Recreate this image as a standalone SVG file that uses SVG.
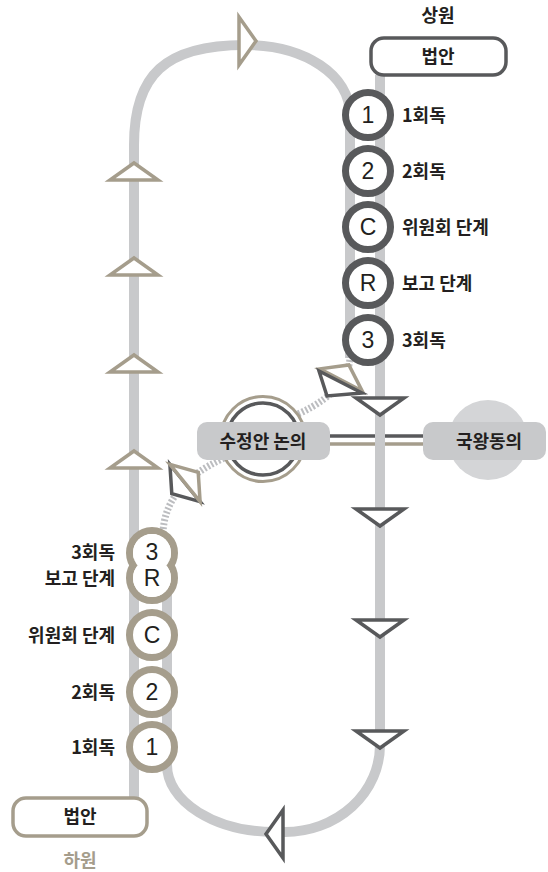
<svg xmlns="http://www.w3.org/2000/svg" width="548" height="872" viewBox="0 0 548 872">
<style>
.track{fill:none;stroke:#c8c9cb;stroke-width:10}
.dash{fill:none;stroke:#bcbdc0;stroke-width:7;stroke-dasharray:2 2}
.ad{fill:#fff;stroke:#58595b;stroke-width:3.5}
.ab{fill:#fff;stroke:#a59d8c;stroke-width:3.5}
.cu{fill:#fff;stroke:#58595b;stroke-width:7}
.cl{fill:#fff;stroke:#a59d8c;stroke-width:7}
.lab{font-family:"Noto Sans CJK KR",sans-serif;font-weight:700;font-size:18px;fill:#231f20}
.num{font-family:"Liberation Sans",sans-serif;font-size:23px;fill:#231f20;text-anchor:middle}
.box{fill:#c8c9cb}
</style>
<defs><polygon id="ah" points="-24,0 24,0 0,17"/></defs>
<g id="connectors">
<line x1="330" y1="436" x2="423" y2="436" stroke="#58595b" stroke-width="3.5"/>
<line x1="330" y1="444" x2="423" y2="444" stroke="#a59d8c" stroke-width="3.5"/>
<path class="track" d="M134,798 V145 C134,75 165,45 245,45 C305,45 350,75 350,115 V358"/>
<path class="track" d="M380,75 V745 A95,87 0 0 1 285,832 H275 A108,67 0 0 1 167,765 V540"/>
<path class="dash" d="M350,356 C350,372 340,395 298,414"/>
<path class="dash" d="M163,533 C164,505 180,478 224,458"/>
<use href="#ah" class="ab" transform="translate(134,180) rotate(180)"/>
<use href="#ah" class="ab" transform="translate(134,275) rotate(180)"/>
<use href="#ah" class="ab" transform="translate(134,372) rotate(180)"/>
<use href="#ah" class="ab" transform="translate(134,468) rotate(180)"/>
<use href="#ah" class="ab" transform="translate(239,41) rotate(-90)"/>
<use href="#ah" class="ad" transform="translate(380,398)"/>
<use href="#ah" class="ad" transform="translate(380,509)"/>
<use href="#ah" class="ad" transform="translate(380,620)"/>
<use href="#ah" class="ad" transform="translate(380,731)"/>
<use href="#ah" class="ad" transform="translate(283,834) rotate(90)"/>
<use href="#ah" class="ab" transform="translate(341,380) rotate(207.6)"/>
<polygon class="ad" points="319,371 362,393 327,396"/>
<use href="#ah" class="ad" transform="translate(185,483) rotate(51)"/>
<use href="#ah" class="ab" transform="translate(185,483) rotate(231)"/>
</g>
<g id="upper-title"><text class="lab" x="438" y="22" text-anchor="middle">상원</text></g>
<g id="upper-bill">
<rect x="371" y="38" width="135" height="37" rx="13" fill="#fff" stroke="#58595b" stroke-width="3.5"/>
<text class="lab" x="438" y="63" text-anchor="middle">법안</text>
</g>
<g id="u1"><circle class="cu" cx="368" cy="115" r="22.5"/><text class="num" x="368" y="123">1</text><text class="lab" x="402" y="122">1회독</text></g>
<g id="u2"><circle class="cu" cx="368" cy="171" r="22.5"/><text class="num" x="368" y="179">2</text><text class="lab" x="402" y="178">2회독</text></g>
<g id="uC"><circle class="cu" cx="368" cy="227" r="22.5"/><text class="num" x="368" y="235">C</text><text class="lab" x="402" y="234">위원회 단계</text></g>
<g id="uR"><circle class="cu" cx="368" cy="283" r="22.5"/><text class="num" x="368" y="291">R</text><text class="lab" x="402" y="290">보고 단계</text></g>
<g id="u3"><circle class="cu" cx="368" cy="340" r="22.5"/><text class="num" x="368" y="348">3</text><text class="lab" x="402" y="347">3회독</text></g>
<g id="amend">
<circle cx="263" cy="439" r="42.5" fill="#fff" stroke="#a59d8c" stroke-width="3"/>
<circle cx="263" cy="439" r="36" fill="#fff" stroke="#58595b" stroke-width="3.5"/>
<rect class="box" x="197" y="422" width="133" height="38" rx="10"/>
<text class="lab" x="263" y="448" text-anchor="middle">수정안 논의</text>
</g>
<g id="assent">
<circle cx="488" cy="440" r="40" fill="#d4d5d7"/>
<rect class="box" x="423" y="422" width="123" height="38" rx="10"/>
<text class="lab" x="489" y="448" text-anchor="middle">국왕동의</text>
</g>
<g id="l3R">
<circle class="cl" cx="152" cy="553" r="22.5"/><circle class="cl" cx="152" cy="578" r="22.5"/>
<circle cx="152" cy="553" r="19" fill="#fff"/><circle cx="152" cy="578" r="19" fill="#fff"/>
<text class="num" x="152" y="560">3</text><text class="num" x="152" y="586">R</text>
<text class="lab" x="115" y="559" text-anchor="end">3회독</text>
<text class="lab" x="115" y="585" text-anchor="end">보고 단계</text>
</g>
<g id="lC"><circle class="cl" cx="152" cy="635" r="22.5"/><text class="num" x="152" y="643">C</text><text class="lab" x="115" y="642" text-anchor="end">위원회 단계</text></g>
<g id="l2"><circle class="cl" cx="152" cy="692" r="22.5"/><text class="num" x="152" y="700">2</text><text class="lab" x="115" y="699" text-anchor="end">2회독</text></g>
<g id="l1"><circle class="cl" cx="152" cy="747" r="22.5"/><text class="num" x="152" y="755">1</text><text class="lab" x="115" y="754" text-anchor="end">1회독</text></g>
<g id="lower-bill">
<rect x="13" y="798" width="134" height="38" rx="13" fill="#fff" stroke="#a59d8c" stroke-width="3.5"/>
<text class="lab" x="80" y="823" text-anchor="middle">법안</text>
</g>
<g id="lower-title"><text class="lab" x="80" y="867" text-anchor="middle" style="fill:#a59d8c">하원</text></g>
</svg>
